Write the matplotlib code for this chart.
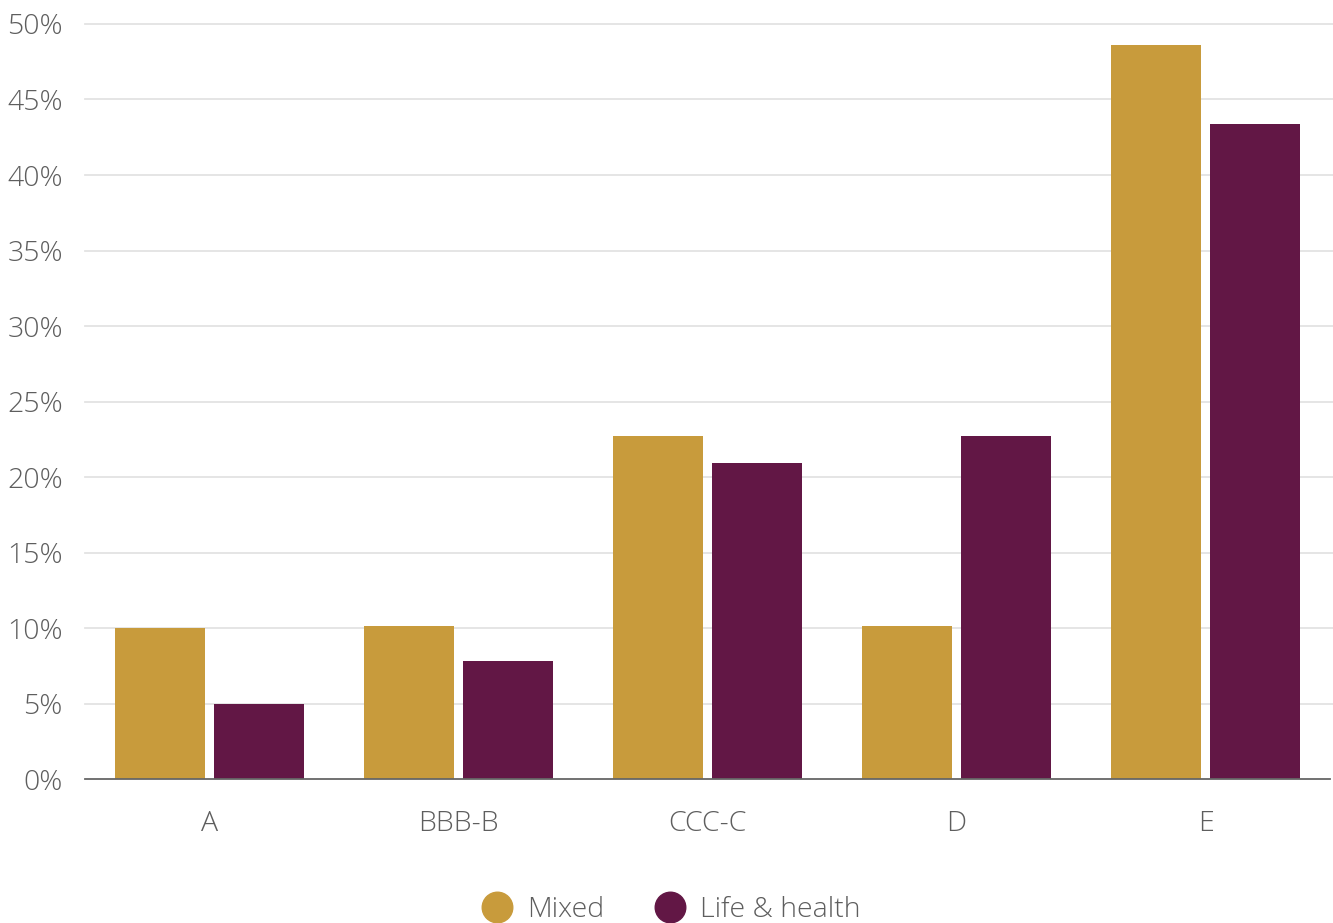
import matplotlib.pyplot as plt
import numpy as np
from matplotlib.lines import Line2D
from matplotlib.ticker import FuncFormatter

categories = ["A", "BBB-B", "CCC-C", "D", "E"]
mixed = [10.0, 10.1, 22.7, 10.1, 48.6]
life_health = [5.0, 7.8, 20.9, 22.7, 43.4]
series_names = ["Mixed", "Life & health"]

gold = "#C89B3C"
maroon = "#621745"
text_col = "#5e5e5e"

plt.rcParams['font.family'] = ['Open Sans', 'DejaVu Sans']
plt.rcParams['font.weight'] = 'light'

fig = plt.figure(figsize=(13.33, 9.23), dpi=100)
ax = fig.add_axes([0.0638, 0.156, 0.9340, 0.818])

x = np.arange(len(categories))
w = 0.3614
gap = 0.036
ax.bar(x - (w + gap) / 2, mixed, width=w, color=gold, zorder=3)
ax.bar(x + (w + gap) / 2, life_health, width=w, color=maroon, zorder=3)

ax.set_xlim(-0.5, len(categories) - 0.5)
ax.set_ylim(0, 50)
ax.set_yticks(np.arange(0, 51, 5))
ax.yaxis.set_major_formatter(FuncFormatter(lambda v, p: f"{v:.0f}%"))
ax.set_xticks(x)
ax.set_xticklabels(categories)

# gridlines run a little past the axis on the right
for v in np.arange(5, 51, 5):
    ax.plot([-0.5, 4.52], [v, v], color='#e3e3e3', linewidth=1.3,
            zorder=0, clip_on=False)
for s in ['top', 'right', 'left']:
    ax.spines[s].set_visible(False)
ax.spines['bottom'].set_color('#666666')
ax.spines['bottom'].set_linewidth(1.3)
ax.spines['bottom'].set_zorder(4)

ax.tick_params(axis='both', length=0, labelsize=20.5, labelcolor=text_col)
ax.tick_params(axis='y', pad=16)
ax.tick_params(axis='x', pad=22.5)

handles = [Line2D([], [], marker='o', linestyle='', markersize=22, color=c)
           for c in (gold, maroon)]
fig.legend(handles, series_names, loc='center', bbox_to_anchor=(0.4985, 0.014),
           ncol=2, frameon=False, fontsize=20.5, labelcolor=text_col,
           handletextpad=0.05, columnspacing=1.3)

fig.savefig("out.png", dpi=100)
